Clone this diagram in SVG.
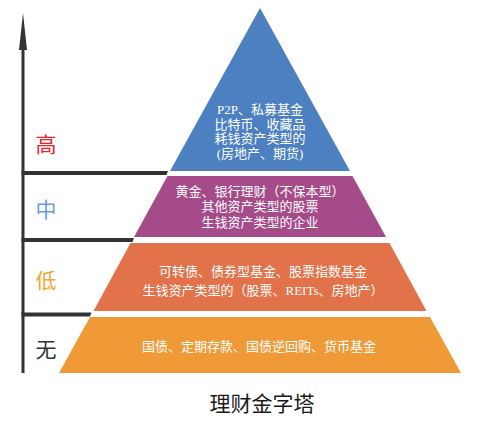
<svg xmlns="http://www.w3.org/2000/svg" width="499" height="422" viewBox="0 0 499 422">
  <style>
    .band-text { font-family: "Liberation Serif", "Noto Sans CJK SC", serif; font-size: 13px; fill: #ffffff; text-anchor: middle; }
    .level { font-family: "Noto Sans CJK SC", sans-serif; font-size: 21px; text-anchor: middle; }
    .title { font-family: "Noto Sans CJK SC", sans-serif; font-size: 21px; fill: #1a1a1a; text-anchor: middle; }
    .axis { fill: #333333; }
  </style>
  <rect width="499" height="422" fill="#ffffff"/>

  <g id="connectors">
    <rect class="axis" x="21.5" y="40" width="3" height="333"/>
    <polygon class="axis" points="23,13 19,50 27,50"/>
    <polygon class="axis" points="21.5,171 168,171 166.5,175 21.5,175"/>
    <polygon class="axis" points="21.5,238 134,238 132.5,242 21.5,242"/>
    <polygon class="axis" points="21.5,312.5 91.5,312.5 90,316.5 21.5,316.5"/>
  </g>

  <g id="label-high"><text class="level" x="46" y="152" fill="#e8232b">高</text></g>
  <g id="label-mid"><text class="level" x="46" y="217" fill="#6b9be6">中</text></g>
  <g id="label-low"><text class="level" x="46" y="288" fill="#f2a530">低</text></g>
  <g id="label-none"><text class="level" x="46" y="357" fill="#333333">无</text></g>

  <g id="tier-high">
    <polygon points="260,8 350,171 170,171" fill="#4c80c1"/>
    <text class="band-text" x="260" y="114">P2P、私募基金</text>
    <text class="band-text" x="260" y="128.5">比特币、收藏品</text>
    <text class="band-text" x="260" y="143">耗钱资产类型的</text>
    <text class="band-text" x="260" y="157.5">(房地产、期货)</text>
  </g>

  <g id="tier-mid">
    <polygon points="167.5,176 352.5,176 386,237 134,237" fill="#a64b8a"/>
    <text class="band-text" x="260" y="196">黄金、银行理财（不保本型）</text>
    <text class="band-text" x="260" y="211">其他资产类型的股票</text>
    <text class="band-text" x="260" y="227">生钱资产类型的企业</text>
  </g>

  <g id="tier-low">
    <polygon points="130.5,243 389.5,243 426.5,311 93.5,311" fill="#e2724a"/>
    <text class="band-text" x="263" y="275.5">可转债、债券型基金、股票指数基金</text>
    <text class="band-text" x="263" y="294.5">生钱资产类型的（股票、REITs、房地产）</text>
  </g>

  <g id="tier-none">
    <polygon points="90,317 430,317 461,373 59,373" fill="#f09a37"/>
    <text class="band-text" x="259" y="351">国债、定期存款、国债逆回购、货币基金</text>
  </g>

  <g id="title"><text class="title" x="262" y="411">理财金字塔</text></g>
</svg>
